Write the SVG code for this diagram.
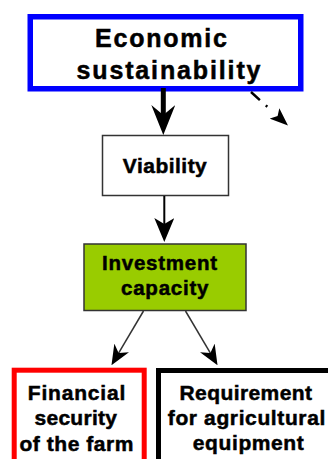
<svg xmlns="http://www.w3.org/2000/svg" width="328" height="459" viewBox="0 0 328 459">
<style>
text{font-family:"Liberation Sans",Arial,sans-serif;font-weight:bold;fill:#000;stroke:#000;stroke-width:0.5}
.t23{font-size:25px}
.t21{font-size:21px}
.t20{font-size:20.5px}
.thin{stroke:#333;stroke-width:1.5}
</style>
<defs>
<marker id="ahBig" viewBox="0 0 30 24" markerWidth="30" markerHeight="24" refX="10" refY="12" orient="auto" markerUnits="userSpaceOnUse"><path d="M0,0 L30,12 L0,24 L10,12 Z" fill="#000"/></marker>
<marker id="ahMid" viewBox="0 0 24 20" markerWidth="24" markerHeight="20" refX="6" refY="10" orient="auto" markerUnits="userSpaceOnUse"><path d="M0,0 L24,10 L0,20 L6,10 Z" fill="#000"/></marker>
<marker id="ahSmall" viewBox="0 0 20 17" markerWidth="20" markerHeight="17" refX="6" refY="8.5" orient="auto" markerUnits="userSpaceOnUse"><path d="M0,0 L20,8.5 L0,17 L6,8.5 Z" fill="#000"/></marker>
<marker id="ahDash" viewBox="0 0 18 14" markerWidth="18" markerHeight="14" refX="4" refY="7" orient="auto" markerUnits="userSpaceOnUse"><path d="M0,0 L18,7 L0,14 L4,7 Z" fill="#000"/></marker>
</defs>
<rect width="328" height="459" fill="#fff"/>
<g id="economic">
<rect x="30.25" y="16.75" width="270.5" height="72" fill="#fff" stroke="#0000ff" stroke-width="5.5"/>
<text class="t23" x="95" y="47" textLength="132" lengthAdjust="spacing">Economic</text>
<text class="t23" x="76.5" y="79" textLength="184" lengthAdjust="spacing">sustainability</text>
</g>
<g id="viability">
<rect x="102.5" y="135.5" width="126" height="60" fill="#fff" class="thin"/>
<text class="t21" x="122.8" y="173.3" textLength="84" lengthAdjust="spacing">Viability</text>
</g>
<g id="investment">
<rect x="84" y="244" width="162" height="66.5" fill="#99cc00" class="thin"/>
<text class="t20" x="102" y="269.5" textLength="115" lengthAdjust="spacing">Investment</text>
<text class="t20" x="121" y="295" textLength="87.5" lengthAdjust="spacing">capacity</text>
</g>
<g id="financial">
<rect x="14.2" y="370.2" width="130" height="100" fill="#fff" stroke="#ff0000" stroke-width="5"/>
<text class="t21" x="27.8" y="400" textLength="97.5" lengthAdjust="spacing">Financial</text>
<text class="t21" x="34.5" y="424.5" textLength="82.5" lengthAdjust="spacing">security</text>
<text class="t21" x="19.5" y="451" textLength="114" lengthAdjust="spacing">of the farm</text>
</g>
<g id="requirement">
<rect x="158.5" y="370.5" width="200" height="100" fill="#fff" stroke="#000" stroke-width="5"/>
<text class="t21" x="179.5" y="400" textLength="132.5" lengthAdjust="spacing">Requirement</text>
<text class="t21" x="167.8" y="425" textLength="157.5" lengthAdjust="spacing">for agricultural</text>
<text class="t21" x="192.8" y="450" textLength="111" lengthAdjust="spacing">equipment</text>
</g>
<g id="connectors" fill="none">
<line x1="163.3" y1="88" x2="163.3" y2="115" stroke="#000" stroke-width="5" marker-end="url(#ahBig)"/>
<line x1="251" y1="92" x2="277.6" y2="116.1" stroke="#000" stroke-width="2.5" stroke-dasharray="12 8 2 20" marker-end="url(#ahDash)"/>
<line x1="164.3" y1="196" x2="164.3" y2="224" stroke="#000" stroke-width="2" marker-end="url(#ahMid)"/>
<line x1="143.5" y1="311" x2="118.6" y2="353.1" class="thin" marker-end="url(#ahSmall)"/>
<line x1="185.5" y1="311" x2="210.4" y2="353.1" class="thin" marker-end="url(#ahSmall)"/>
</g>
</svg>
